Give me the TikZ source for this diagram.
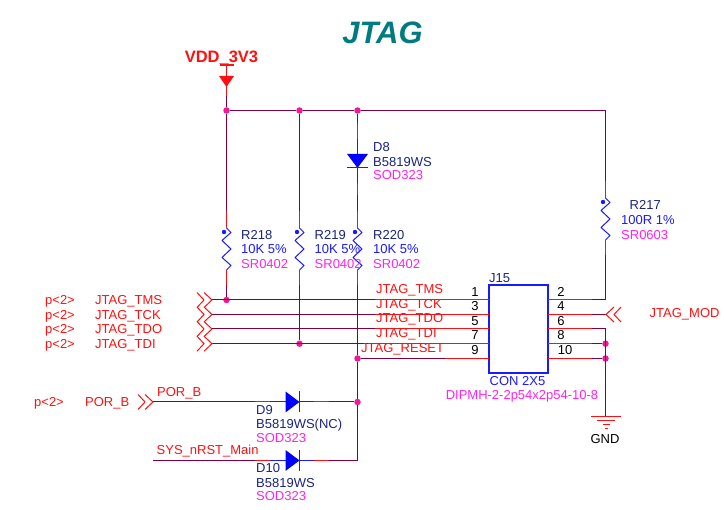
\documentclass[tikz,border=0pt]{standalone}
\usepackage{fontspec}
\setmainfont{Liberation Sans}
\definecolor{netwire}{HTML}{800040}
\definecolor{netred}{HTML}{FF1010}
\definecolor{partblue}{HTML}{1A1AFF}
\definecolor{refnavy}{HTML}{1A237E}
\definecolor{footmag}{HTML}{FF22EE}
\definecolor{titleteal}{HTML}{007C80}
\begin{document}
\begin{tikzpicture}[
    x=1pt, y=-1pt,
    wire/.style={draw=netwire, line width=1pt},
    pinred/.style={draw=netred, line width=1pt},
    pinblue/.style={draw=partblue, line width=1pt},
    junction/.style={circle, fill=magenta!90!white, inner sep=0pt, minimum size=6.5pt},
    txt/.style={inner sep=0pt, anchor=base west, yshift=-4.5pt, font=\fontsize{13}{14}\selectfont},
    netlabel/.style={txt, text=netred},
    pinno/.style={inner sep=0pt, anchor=base, yshift=-4.5pt, font=\fontsize{13}{14}\selectfont, text=black},
    refname/.style={txt, text=refnavy},
    partvalue/.style={txt, text=partblue},
    footprint/.style={txt, text=footmag},
    resbody/.pic={
        \draw[pinblue, line join=round] (0,0) -- (4.5,4.5) -- (-4.5,12.5) -- (4.5,21)
            -- (-4.5,29.5) -- (4.5,37.5) -- (0,42);
        \fill[partblue] (-2.5,4) circle (2.2pt);
    },
    diodebody/.pic={
        \fill[blue] (-14,-10.5) -- (-14,10.5) -- (0,0) -- cycle;
        \draw[pinblue] (0,-10.5) -- (0,10.5);
    },
    portin/.pic={
        \draw[netred, line width=1pt] (-15,-7.5) -- (-8,0) -- (-15,7.5);
        \draw[netred, line width=1pt] (-8,-7.5) -- (0,0) -- (-8,7.5);
    }
]
\useasboundingbox (0,0) rectangle (724,510);

% junctions and free points
\node (JTop1) [junction] at (226.5,110.5) {};
\node (JTop2) [junction] at (299.5,110.5) {};
\node (JTop3) [junction] at (357.5,110.5) {};
\coordinate (TopEnd) at (605.5,110.5);
\node (JTms) [junction] at (226.5,300) {};
\node (JTdi) [junction] at (299.5,343.7) {};
\node (JRst) [junction] at (357.5,358.5) {};
\node (JPor) [junction] at (357.5,402) {};
\coordinate (MainEnd) at (357.5,460.5);
\node (JPin8) [junction] at (605.5,343.7) {};
\node (JPin10) [junction] at (605.5,358.5) {};
\coordinate (Corner2) at (605.5,300);
\coordinate (Corner6) at (605.5,329);
\coordinate (GndTop) at (605.5,416);

% part ends
\coordinate (R218Top) at (226.5,228);
\coordinate (R218Bot) at (226.5,270);
\coordinate (R219Top) at (299.5,228);
\coordinate (R219Bot) at (299.5,270);
\coordinate (R220Top) at (357.5,228);
\coordinate (R220Bot) at (357.5,270);
\coordinate (R217Top) at (605.5,198);
\coordinate (R217Bot) at (605.5,240);
\coordinate (D8In) at (357.5,154);
\coordinate (D8Out) at (357.5,168);
\coordinate (D9In) at (285.5,402);
\coordinate (D9Out) at (299.5,402);
\coordinate (D10In) at (285.5,460.5);
\coordinate (D10Out) at (299.5,460.5);

% connector box and pins
\node (J15Box) [draw=partblue, line width=1.2pt, minimum width=59pt, minimum height=88pt,
    inner sep=0pt] at (518.5,329) {};
\coordinate (Pin1) at (489,300);
\coordinate (Pin3) at (489,314.5);
\coordinate (Pin5) at (489,329);
\coordinate (Pin7) at (489,343.7);
\coordinate (Pin9) at (489,358.5);
\coordinate (Pin2) at (548,300);
\coordinate (Pin4) at (548,314.5);
\coordinate (Pin6) at (548,329);
\coordinate (Pin8) at (548,343.7);
\coordinate (Pin10) at (548,358.5);
\coordinate (PortTms) at (212,300);
\coordinate (PortTck) at (212,314.5);
\coordinate (PortTdo) at (212,329);
\coordinate (PortTdi) at (212,343.7);
\coordinate (PortPor) at (153,402);
\coordinate (PortMod) at (606,314.5);
\coordinate (RstStart) at (153,460.5);
\coordinate (VddBar) at (226.5,65);

% wires
\draw[wire] (JTop1) -- (JTop2) -- (JTop3) -- (TopEnd) -- (R217Top);
\draw[wire] (R217Bot) -- (Corner2) -- (Pin2);
\draw[wire] (JTop1) -- (R218Top);
\draw[wire] (R218Bot) -- (JTms);
\draw[wire] (JTop2) -- (R219Top);
\draw[wire] (R219Bot) -- (JTdi);
\draw[wire] (JTop3) -- (D8In);
\draw[wire] (D8Out) -- (R220Top);
\draw[wire] (R220Bot) -- (JRst) -- (JPor) -- (MainEnd) -- (D10Out);
\draw[wire] (D10In) -- (RstStart);
\draw[wire] (PortTms) -- (Pin1);
\draw[wire] (PortTck) -- (Pin3);
\draw[wire] (PortTdo) -- (Pin5);
\draw[wire] (PortTdi) -- (Pin7);
\draw[wire] (JRst) -- (Pin9);
\draw[wire] (PortPor) -- (D9In);
\draw[wire] (D9Out) -- (JPor);
\draw[wire] (Pin4) -- (PortMod);
\draw[wire] (Pin6) -- (Corner6) -- (GndTop);
\draw[wire] (Pin8) -- (JPin8);
\draw[wire] (Pin10) -- (JPin10);

% red pin ends
\foreach \pinname/\stub in {Pin1/114, Pin3/114, Pin5/114, Pin7/114, Pin9/44} {
    \draw[pinred] (\pinname) -- ++(-\stub,0);
}
\foreach \pinname in {Pin2, Pin4, Pin6, Pin8, Pin10} {
    \draw[pinred] (\pinname) -- ++(44,0);
}
\foreach \xpos/\ytop in {226.5/228, 299.5/228, 357.5/228, 605.5/198} {
    \draw[pinred] (\xpos,\ytop) -- ++(0,-17);
    \draw[pinred] (\xpos,\ytop+42) -- ++(0,15);
    \pic at (\xpos,\ytop) {resbody};
}
\draw[pinred] (357.5,123) -- (357.5,139);
\draw[pinred] (357.5,183) -- (357.5,195);
\draw[pinblue] (357.5,139) -- (D8In);
\draw[pinblue] (D8Out) -- (357.5,183);
\pic[rotate=-90] at (D8Out) {diodebody};
\foreach \ypos in {402, 460.5} {
    \draw[pinred] (255,\ypos) -- (270,\ypos);
    \draw[pinred] (314,\ypos) -- (329,\ypos);
    \draw[pinblue] (270,\ypos) -- (285.5,\ypos);
    \draw[pinblue] (299.5,\ypos) -- (314,\ypos);
    \pic at (299.5,\ypos) {diodebody};
}

% ports
\pic at (PortTms) {portin};
\pic at (PortTck) {portin};
\pic at (PortTdo) {portin};
\pic at (PortTdi) {portin};
\pic at (PortPor) {portin};
\pic[rotate=180] at (PortMod) {portin};

% power and ground
\draw[pinred, line width=1.2pt] (219.5,65) -- (233.5,65);
\draw[pinred] (VddBar) -- (226.5,96);
\draw[wire] (226.5,96) -- (JTop1);
\fill[netred] (219,76) -- (234,76) -- (226.5,87) -- cycle;
\draw[pinred] (591,416.5) -- (621,416.5);
\draw[pinred] (597,420.5) -- (615,420.5);
\draw[pinred] (603,424.5) -- (610,424.5);
\draw[pinred] (605,429) -- (608,429);
\node (GndLabel) [pinno] at (605,439) {GND};

% title
\node (Title) [inner sep=0pt, text=titleteal, font=\fontsize{31}{33}\bfseries\itshape\selectfont]
    at (382.5,33) {JTAG};
\node (VddLabel) [inner sep=0pt, text=netred, font=\fontsize{16.5}{18}\bfseries\selectfont]
    at (221.5,58) {VDD\_3V3};

% part texts
\node (R218Ref) [refname] at (241,235) {R218};
\node (R218Val) [partvalue] at (241,249) {10K 5\%};
\node (R218Foot) [footprint] at (241,264) {SR0402};
\node (R219Ref) [refname] at (314.5,235) {R219};
\node (R219Val) [partvalue] at (314.5,249) {10K 5\%};
\node (R219Foot) [footprint] at (314.5,264) {SR0402};
\node (R220Ref) [refname] at (373,235) {R220};
\node (R220Val) [partvalue] at (373,249) {10K 5\%};
\node (R220Foot) [footprint] at (373,264) {SR0402};
\node (R217Ref) [refname] at (629.5,205) {R217};
\node (R217Val) [partvalue] at (621,220.5) {100R 1\%};
\node (R217Foot) [footprint] at (621,235) {SR0603};
\node (D8Ref) [refname] at (373,147) {D8};
\node (D8Val) [refname] at (373,162) {B5819WS};
\node (D8Foot) [footprint] at (373,175.5) {SOD323};
\node (D9Ref) [refname] at (256,410) {D9};
\node (D9Val) [refname] at (256,424.5) {B5819WS(NC)};
\node (D9Foot) [footprint] at (256,438.5) {SOD323};
\node (D10Ref) [refname] at (256,468) {D10};
\node (D10Val) [refname] at (256,483) {B5819WS};
\node (D10Foot) [footprint] at (256,496.5) {SOD323};
\node (J15Ref) [refname] at (489,278) {J15};
\node (J15Val) [partvalue, anchor=base] at (517.5,381) {CON 2X5};
\node (J15Foot) [footprint, anchor=base] at (522,395) {DIPMH-2-2p54x2p54-10-8};

% pin numbers
\foreach \pinno/\xpos/\ypos in {1/475/292, 3/475/306, 5/475/321, 7/475/335, 9/475/350,
    2/561/292, 4/561/306, 6/561/321, 8/561/335, 10/565/350} {
    \node (PinNo\pinno) [pinno] at (\xpos,\ypos) {\pinno};
}

% net labels
\foreach \netname/\ypos in {TMS/300.5, TCK/315.5, TDO/329.5, TDI/344.5} {
    \node (PageRef\netname) [netlabel] at (45,\ypos) {p<2>};
    \node (Port\netname Label) [netlabel] at (95,\ypos) {JTAG\_\netname};
}
\node (NetTms) [netlabel] at (376,289.5) {JTAG\_TMS};
\node (NetTck) [netlabel] at (376,304) {JTAG\_TCK};
\node (NetTdo) [netlabel] at (376,318.5) {JTAG\_TDO};
\node (NetTdi) [netlabel] at (376,333) {JTAG\_TDI};
\node (NetRst) [netlabel] at (361,348) {JTAG\_RESET};
\node (PagePor) [netlabel] at (34,402.5) {p<2>};
\node (PorLabel) [netlabel] at (85,402.5) {POR\_B};
\node (NetPor) [netlabel] at (157,392) {POR\_B};
\node (NetRstMain) [netlabel] at (156.5,450.5) {SYS\_nRST\_Main};
\node (ModLabel) [netlabel] at (649.5,313.5) {JTAG\_MOD};
\end{tikzpicture}
\end{document}
